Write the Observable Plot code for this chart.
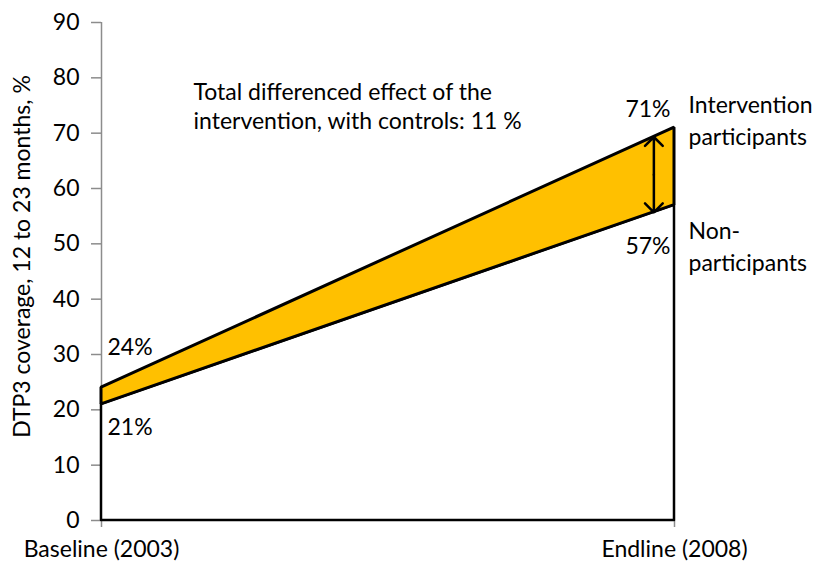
<!DOCTYPE html>
<html>
<head>
<meta charset="utf-8">
<script src="https://cdn.jsdelivr.net/npm/d3@7"></script>
<script src="https://cdn.jsdelivr.net/npm/@observablehq/plot@0.6"></script>
<style>
  html, body { margin: 0; padding: 0; background: #fff; }
  #chart svg { display: block; }
</style>
</head>
<body>
<div id="chart"></div>
<script>
// Survey rounds and DTP3 coverage (%) among children 12–23 months
const years = [2003, 2008];
const periodLabels = ["Baseline (2003)", "Endline (2008)"];
const intervention = [24, 71];
const nonParticipants = [21, 57];
const yTicks = [0, 10, 20, 30, 40, 50, 60, 70, 80, 90];
const effectNote = "Total differenced effect of the\nintervention, with controls: 11 %";
const seriesNames = ["Intervention\nparticipants", "Non-\nparticipants"];
const yLabel = "DTP3 coverage, 12 to 23 months, %";

const rows = years.map((year, i) => ({
  year,
  intervention: intervention[i],
  non: nonParticipants[i]
}));

// the double arrow sits just inside the endline edge, spanning the gap
const arrowYear = 2007.82;
const frac = (arrowYear - years[0]) / (years[1] - years[0]);
const arrowTop = intervention[0] + (intervention[1] - intervention[0]) * frac;
const arrowBottom = nonParticipants[0] + (nonParticipants[1] - nonParticipants[0]) * frac;
const arrowMid = (arrowTop + arrowBottom) / 2;

const font = "Lato, 'Open Sans', sans-serif";
const fs = 23;
const gray = "#8c8c8c";

const chart = Plot.plot({
  width: 834,
  height: 571,
  marginLeft: 101,
  marginRight: 160,
  marginTop: 22,
  marginBottom: 51,
  style: { fontFamily: font, fontSize: `${fs}px`, color: "#000", background: "#fff" },
  x: { domain: years, type: "linear" },
  y: { domain: [0, 90] },
  marks: [
    Plot.ruleX([years[0]], { y1: 0, y2: 90, stroke: gray, strokeWidth: 1.5 }),
    Plot.axisY({
      ticks: yTicks, tickSize: 10, tickPadding: 12, stroke: gray, strokeWidth: 1.5,
      fontSize: fs, label: null
    }),
    Plot.axisX({
      ticks: years, tickSize: 7, tickPadding: 13, stroke: gray, strokeWidth: 1.5,
      fontSize: fs, label: null,
      tickFormat: (d) => periodLabels[years.indexOf(d)]
    }),
    Plot.areaY(rows, {
      x: "year", y1: 0, y2: "non",
      fill: "white", stroke: "black", strokeWidth: 2.5
    }),
    Plot.areaY(rows, {
      x: "year", y1: "non", y2: "intervention",
      fill: "#FFC000", stroke: "black", strokeWidth: 3, strokeLinejoin: "miter"
    }),
    Plot.arrow([arrowTop, arrowBottom], {
      x1: arrowYear, x2: arrowYear, y1: arrowMid, y2: (d) => d,
      stroke: "black", strokeWidth: 2.5, headLength: 13, headAngle: 90, bend: 0, inset: 0
    }),
    // value labels
    Plot.text([intervention[0]], {
      x: years[0], y: (d) => d, text: (d) => `${d}%`,
      textAnchor: "start", dx: 6, dy: -40, fontSize: fs
    }),
    Plot.text([nonParticipants[0]], {
      x: years[0], y: (d) => d, text: (d) => `${d}%`,
      textAnchor: "start", dx: 6, dy: 23, fontSize: fs
    }),
    Plot.text([intervention[1]], {
      x: years[1], y: (d) => d, text: (d) => `${d}%`,
      textAnchor: "end", dx: -4, dy: -18, fontSize: fs
    }),
    Plot.text([nonParticipants[1]], {
      x: years[1], y: (d) => d, text: (d) => `${d}%`,
      textAnchor: "end", dx: -4, dy: 42, fontSize: fs
    }),
    // series names to the right of the endline edge
    Plot.text([seriesNames[0]], {
      x: years[1], y: intervention[1], text: (d) => d,
      textAnchor: "start", dx: 14, dy: -9, lineHeight: 1.42, fontSize: fs
    }),
    Plot.text([seriesNames[1]], {
      x: years[1], y: nonParticipants[1], text: (d) => d,
      textAnchor: "start", dx: 14, dy: 40, lineHeight: 1.4, fontSize: fs
    }),
    // effect annotation
    Plot.text([effectNote], {
      frameAnchor: "top-left", text: (d) => d,
      textAnchor: "start", lineAnchor: "middle", dx: 92, dy: 83,
      lineHeight: 1.22, fontSize: fs
    }),
    // y-axis title
    Plot.text([yLabel], {
      frameAnchor: "left", text: (d) => d, rotate: -90, textAnchor: "middle",
      dx: -79, dy: -15, fontSize: fs
    })
  ]
});

document.getElementById("chart").append(chart);
</script>
</body>
</html>
